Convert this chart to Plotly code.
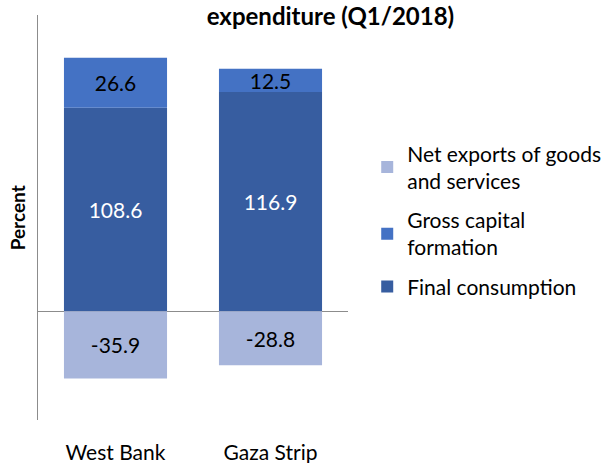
import plotly.graph_objects as go

# Data
regions = ["West Bank", "Gaza Strip"]
final_consumption = [108.6, 116.9]
gross_capital = [26.6, 12.5]
net_exports = [-35.9, -28.8]

font_family = "Lato, 'Open Sans', sans-serif"

fig = go.Figure()

fig.add_trace(go.Bar(
    x=regions, y=final_consumption, name="Final consumption",
    legendgroup="fc", legendrank=3,
    marker=dict(color="#375DA0", line=dict(width=0)),
    text=[f"{v:.1f}" for v in final_consumption], textposition="inside",
    insidetextanchor="middle", constraintext="none",
    textfont=dict(color="white", size=21),
))
fig.add_trace(go.Bar(
    x=regions, y=gross_capital, name="Gross capital<br>formation",
    legendgroup="gc", legendrank=2,
    marker=dict(color="#4472C4", line=dict(width=0)),
    text=[f"{v:.1f}" for v in gross_capital], textposition="inside",
    insidetextanchor="middle", constraintext="none",
    textfont=dict(color="black", size=21),
))
fig.add_trace(go.Bar(
    x=regions, y=net_exports, name="Net exports of goods<br>and services",
    legendgroup="ne", legendrank=1,
    marker=dict(color="#A7B5DB", line=dict(width=0)),
    text=[f"{v:.1f}" for v in net_exports], textposition="inside",
    insidetextanchor="middle", constraintext="none",
    textfont=dict(color="black", size=21),
))

fig.update_layout(
    barmode="relative",
    bargap=0.335,
    width=612, height=463,
    margin=dict(l=38, r=264, t=15, b=43, autoexpand=False),
    paper_bgcolor="white", plot_bgcolor="white",
    font=dict(family=font_family, size=21, color="black"),
    title=dict(text="<b>expenditure (Q1/2018)</b>", x=0.54, xanchor="center",
               y=0.982, yanchor="top", font=dict(size=24)),
    legend=dict(
        x=1.062, xanchor="left", y=0.708, yanchor="top",
        traceorder="grouped", tracegroupgap=9, font=dict(size=21),
        bgcolor="rgba(0,0,0,0)", itemclick=False,
    ),
    showlegend=True,
)

# y-axis title as a rotated note, sitting close to the left edge
fig.add_annotation(
    text="<b>Percent</b>", textangle=-90, showarrow=False,
    xref="paper", yref="paper", x=-0.065, y=0.5,
    xanchor="center", yanchor="middle", font=dict(size=19),
)

fig.update_xaxes(
    showline=False, showgrid=False, ticks="", zeroline=False,
    tickfont=dict(size=21), ticklabelstandoff=18, automargin=False,
)
fig.update_yaxes(
    range=[-58, 158], showticklabels=False, showgrid=False, ticks="",
    showline=True, linecolor="#8C8C8C", linewidth=1,
    zeroline=True, zerolinecolor="#8C8C8C", zerolinewidth=1,
    automargin=False,
)

# drop the browser's default page margin so the figure sits at (0, 0)
fig.write_html("out.html", config={"displayModeBar": False},
               post_script="document.body.style.margin='0';")
